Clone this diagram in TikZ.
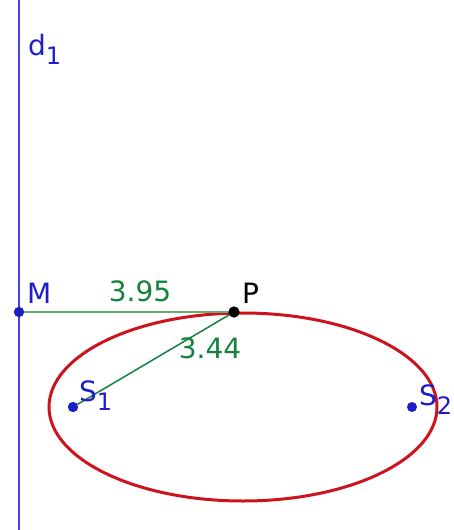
\documentclass[tikz,border=0pt]{standalone}
\usepackage{fontspec}
\setmainfont{DejaVu Sans}
\definecolor{gblue}{RGB}{30,30,200}
\definecolor{lineblue}{RGB}{70,70,230}
\definecolor{ggreen}{RGB}{20,130,60}
\definecolor{lgreen}{RGB}{100,175,110}
\definecolor{gred}{RGB}{205,20,30}
\newcommand{\mysub}[1]{\raisebox{-0.33em}{\fontsize{24}{24}\selectfont #1}}
\begin{document}
\begin{tikzpicture}[x=1pt,y=-1pt,
  lbl/.style={inner sep=0pt,font=\fontsize{28}{28}\selectfont},
  bluedot/.style={circle,fill=gblue,inner sep=0pt,minimum size=10pt},
  blackdot/.style={circle,fill=black,inner sep=0pt,minimum size=11pt}]
\useasboundingbox (0,0) rectangle (454,530);
\fill[white] (0,0) rectangle (454,530);
\coordinate (dtop) at (19,0);
\coordinate (dbot) at (19,530);
\draw[lineblue,line width=2pt] (dtop) -- (dbot);
\draw[gred,line width=3pt] (243,407) ellipse [x radius=194, y radius=94];
\node[bluedot] (M) at (19,312) {};
\node[blackdot] (P) at (234,312) {};
\node[bluedot] (S1) at (73,407) {};
\node[bluedot] (S2) at (412,407) {};
\draw[lgreen,line width=2.5pt] (M) -- (P);
\draw[ggreen,line width=1.5pt] (P) -- (S1);
\node[bluedot] at (M) {};
\node[blackdot] at (P) {};
\node[bluedot] at (S1) {};
\node[lbl,text=gblue,anchor=base west] (d1lbl) at (28,55) {d\mysub{1}};
\node[lbl,text=gblue,anchor=base west] (Mlbl) at (27,303) {M};
\node[lbl,text=ggreen,anchor=base] (l395) at (140,301) {3.95};
\node[lbl,text=black,anchor=base west] (Plbl) at (242,303) {P};
\node[lbl,text=ggreen,anchor=base] (l344) at (210,358) {3.44};
\node[lbl,text=gblue,anchor=base west] (S1lbl) at (79,401) {S\mysub{1}};
\node[lbl,text=gblue,anchor=base west] (S2lbl) at (419,405) {S\mysub{2}};
\end{tikzpicture}
\end{document}
